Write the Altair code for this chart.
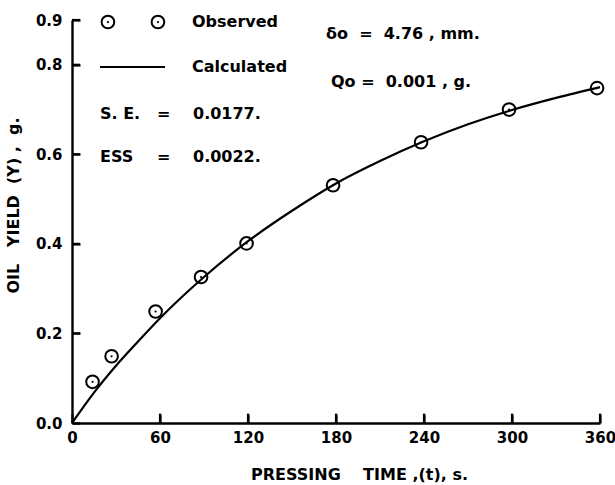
import altair as alt
import pandas as pd

obs_t = [14, 27, 57, 88, 119, 178, 238, 298, 358]
obs_y = [0.092, 0.149, 0.249, 0.326, 0.401, 0.531, 0.627, 0.700, 0.748]

# Calculated curve
calc_t = [0, 15, 30, 45, 60, 90, 120, 150, 180, 210, 240, 270, 300, 330, 360]
calc_y = [0.0, 0.068, 0.128, 0.182, 0.234, 0.326, 0.406, 0.474, 0.535, 0.585,
          0.629, 0.667, 0.699, 0.726, 0.750]

x_ticks = [0, 60, 120, 180, 240, 300, 360]
y_ticks = [0.0, 0.2, 0.4, 0.6, 0.8, 0.9]

FONT = "DejaVu Sans"
W, H = 528, 403
NB = "\u00a0"

obs = pd.DataFrame({"t": obs_t, "y": obs_y})
calc = pd.DataFrame({"t": calc_t, "y": calc_y})
xt = pd.DataFrame({"t": x_ticks[1:], "k": ["x"] * 6})
yt = pd.DataFrame({"y": y_ticks[1:], "k": ["y"] * 5})

xs = alt.Scale(domain=[0, 360], nice=False, zero=False)
ys = alt.Scale(domain=[0, 0.9], nice=False, zero=False)

xtitle = "PRESSING" + NB * 4 + "TIME" + NB + ",(t)," + NB + "s."
ytitle = "OIL" + NB * 3 + "YIELD" + NB * 2 + "(Y)" + NB + "," + NB * 2 + "g."

# negative tick size (as an expression) turns the ticks inward
xaxis = alt.Axis(values=x_ticks, format="d", tickSize=alt.ExprRef(expr="-9"),
                 tickWidth=2.2, tickColor="black", domainWidth=2.4,
                 domainColor="black", labelFont=FONT, labelFontSize=15,
                 labelFontWeight="bold", labelColor="black", labelPadding=16,
                 grid=False, title=xtitle, titleFont=FONT,
                 titleFontSize=16, titleFontWeight="bold", titleColor="black",
                 titleX=287, titleY=43, titleAnchor="middle", labelFlush=False)
yaxis = alt.Axis(values=y_ticks, format=".1f", tickSize=alt.ExprRef(expr="-8"),
                 tickWidth=2.2, tickColor="black", domainWidth=2.4,
                 domainColor="black", labelFont=FONT, labelFontSize=15,
                 labelFontWeight="bold", labelColor="black", labelPadding=18,
                 grid=False, title=ytitle, titleFont=FONT,
                 titleFontSize=16, titleFontWeight="bold", titleColor="black",
                 titleX=-51, titleY=185, titleAnchor="middle", labelFlush=False)

line = alt.Chart(calc).mark_line(color="black", strokeWidth=2.2,
                                 interpolate="monotone").encode(
    x=alt.X("t:Q", scale=xs, axis=xaxis),
    y=alt.Y("y:Q", scale=ys, axis=yaxis),
)

pts = alt.Chart(obs).mark_point(shape="circle", filled=False, color="black",
                                strokeWidth=2, size=160, opacity=1).encode(
    x=alt.X("t:Q", scale=xs), y=alt.Y("y:Q", scale=ys))
dots = alt.Chart(obs).mark_circle(color="black", size=5, opacity=1).encode(
    x=alt.X("t:Q", scale=xs), y=alt.Y("y:Q", scale=ys))

# inward ticks, also drawn as rules through the data scales
xtick = alt.Chart(xt).mark_rule(color="black", strokeWidth=2.2).encode(
    x=alt.X("t:Q", scale=xs), y=alt.datum(0), y2=alt.datum(0.021))
ytick = alt.Chart(yt).mark_rule(color="black", strokeWidth=2.2).encode(
    y=alt.Y("y:Q", scale=ys), x=alt.datum(0), x2=alt.datum(5.5))

# annotation / legend block (placed in data coordinates)
ann_text = ["Observed", "Calculated", "S. E.", "=", "0.0177.", "ESS", "=",
            "0.0022.", "δo" + NB * 2 + "=" + NB * 2 + "4.76" + NB + "," + NB + "mm.",
            "Qo" + NB + "=" + NB * 2 + "0.001" + NB + "," + NB + "g."]
ann_t = [81.8, 81.8, 19.1, 58.0, 82.5, 19.1, 58.0, 82.5, 173.2, 176.6]
ann_v = [0.8955, 0.795, 0.690, 0.690, 0.690, 0.594, 0.594, 0.594, 0.869, 0.7615]
ann = pd.DataFrame({"text": ann_text, "t": ann_t, "y": ann_v})

texts = alt.Chart(ann).mark_text(align="left", baseline="middle", font=FONT,
                                 fontSize=16, fontWeight="bold",
                                 color="black").encode(
    x=alt.X("t:Q", scale=xs), y=alt.Y("y:Q", scale=ys), text="text:N")

leg = pd.DataFrame({"t": [24.5, 58.6], "y": [0.8955, 0.8955]})
leg_pts = alt.Chart(leg).mark_point(shape="circle", filled=False, color="black",
                                    strokeWidth=2, size=160, opacity=1).encode(
    x=alt.X("t:Q", scale=xs), y=alt.Y("y:Q", scale=ys))
leg_dots = alt.Chart(leg).mark_circle(color="black", size=5, opacity=1).encode(
    x=alt.X("t:Q", scale=xs), y=alt.Y("y:Q", scale=ys))
leg_line = alt.Chart(pd.DataFrame({"a": [0]})).mark_rule(
    color="black", strokeWidth=2.2).encode(
    x=alt.datum(19.1), x2=alt.datum(63.4), y=alt.datum(0.795))

chart = alt.layer(line, pts, dots, xtick, ytick, texts, leg_pts, leg_dots,
                  leg_line).properties(
    width=W, height=H,
    padding={"left": 72, "top": 20, "right": 15, "bottom": 62},
    autosize=alt.AutoSizeParams(type="none"),
    background="white",
).configure_view(strokeWidth=0)

chart.save("out.html", embed_options={"renderer": "svg", "actions": False})
